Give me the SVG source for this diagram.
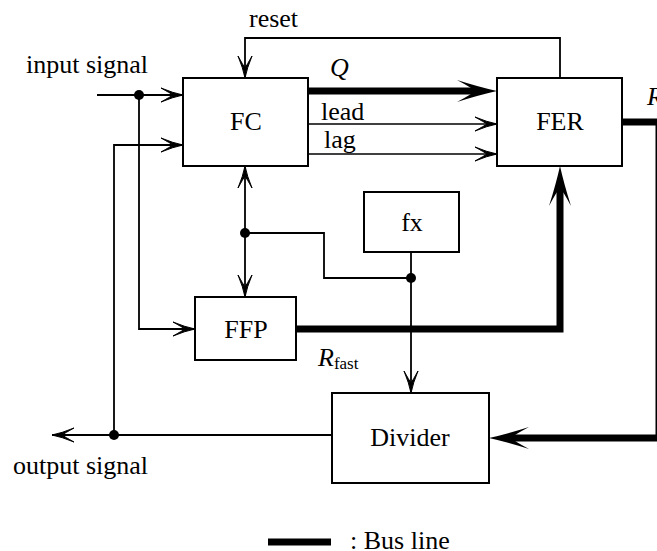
<svg xmlns="http://www.w3.org/2000/svg" width="657" height="551" viewBox="0 0 657 551">
<style>
.box{fill:#fff;stroke:#000;stroke-width:2}
.lbl{font-family:"Liberation Serif","Times New Roman",serif;font-size:26px;fill:#000}
.it{font-style:italic}
.thin{fill:none;stroke:#000;stroke-width:1.8}
.bus{fill:none;stroke:#000;stroke-width:7}
.dot{fill:#000}
</style>
<defs>
<marker id="arr" markerUnits="userSpaceOnUse" orient="auto" refX="0" refY="0" markerWidth="30" markerHeight="20" overflow="visible">
<path d="M0,0 Q-10,-2 -22,-7 Q-13,-2 -10,0 Q-13,2 -22,7 Q-10,2 0,0 Z" fill="#000" stroke="#000" stroke-width="1"/>
</marker>
<marker id="arrStart" markerUnits="userSpaceOnUse" orient="auto-start-reverse" refX="0" refY="0" markerWidth="30" markerHeight="20" overflow="visible">
<path d="M0,0 Q-10,-2 -22,-7 Q-13,-2 -10,0 Q-13,2 -22,7 Q-10,2 0,0 Z" fill="#000" stroke="#000" stroke-width="1"/>
</marker>
<marker id="busArr" markerUnits="userSpaceOnUse" orient="auto" refX="0" refY="0" markerWidth="60" markerHeight="30" overflow="visible">
<path d="M20,0 Q2,-4 -20,-11 Q-5,-3 -2,0 Q-5,3 -20,11 Q2,4 20,0 Z" fill="#000"/>
</marker>
</defs>
<g id="connectors">
<!-- input signal -->
<path class="thin" d="M97,95 L183,95" marker-end="url(#arr)"/>
<path class="thin" d="M139,95 L139,329 L195,329" marker-end="url(#arr)"/>
<!-- feedback from output -->
<path class="thin" d="M114,435 L114,145 L183,145" marker-end="url(#arr)"/>
<path class="thin" d="M332,435 L52,435" marker-end="url(#arr)"/>
<!-- reset -->
<path class="thin" d="M560,78 L560,38 L245,38 L245,78" marker-end="url(#arr)"/>
<!-- Q bus -->
<path class="bus" d="M308,91 L477,91" marker-end="url(#busArr)"/>
<!-- lead / lag -->
<path class="thin" d="M308,124 L497,124" marker-end="url(#arr)" style="stroke-width:1.5"/>
<path class="thin" d="M308,154 L497,154" marker-end="url(#arr)" style="stroke-width:1.5"/>
<!-- FC <-> FFP -->
<path class="thin" d="M245,166 L245,297" marker-start="url(#arrStart)" marker-end="url(#arr)"/>
<path class="thin" d="M245,233 L324,233 L324,278 L411,278"/>
<!-- fx to Divider -->
<path class="thin" d="M411,252 L411,393" marker-end="url(#arr)"/>
<!-- FFP bus to FER -->
<path class="bus" d="M296,329 L560,329 L560,186" marker-end="url(#busArr)"/>
<!-- FER bus out to Divider -->
<path class="bus" d="M622,122 L659,122 L659,438 L509,438" marker-end="url(#busArr)"/>
<circle class="dot" cx="139" cy="95" r="5"/>
<circle class="dot" cx="114" cy="435" r="5"/>
<circle class="dot" cx="245" cy="233" r="5"/>
<circle class="dot" cx="411" cy="278" r="5"/>
</g>
<g id="FC"><rect class="box" x="183" y="78" width="125" height="88"/><text class="lbl" x="246" y="130" text-anchor="middle">FC</text></g>
<g id="FER"><rect class="box" x="497" y="78" width="125" height="88"/><text class="lbl" x="560" y="130" text-anchor="middle">FER</text></g>
<g id="FFP"><rect class="box" x="195" y="297" width="101" height="63"/><text class="lbl" x="246" y="338" text-anchor="middle">FFP</text></g>
<g id="fx"><rect class="box" x="364" y="192" width="95" height="60"/><text class="lbl" x="412" y="231" text-anchor="middle">fx</text></g>
<g id="Divider"><rect class="box" x="332" y="393" width="157" height="90"/><text class="lbl" x="410" y="446" text-anchor="middle">Divider</text></g>
<g id="labels">
<text class="lbl" x="26" y="73">input signal</text>
<text class="lbl" x="13" y="474">output signal</text>
<text class="lbl" x="249" y="27">reset</text>
<text class="lbl it" x="330" y="76">Q</text>
<text class="lbl" x="321" y="120">lead</text>
<text class="lbl" x="324" y="148">lag</text>
<text class="lbl it" x="647" y="105">R</text>
<text class="lbl" x="318" y="366"><tspan class="it">R</tspan><tspan font-size="17" dy="3">fast</tspan></text>
</g>
<g id="legend">
<line x1="268" y1="542" x2="331" y2="542" stroke="#000" stroke-width="7"/>
<text class="lbl" x="350" y="549">: Bus line</text>
</g>
</svg>
